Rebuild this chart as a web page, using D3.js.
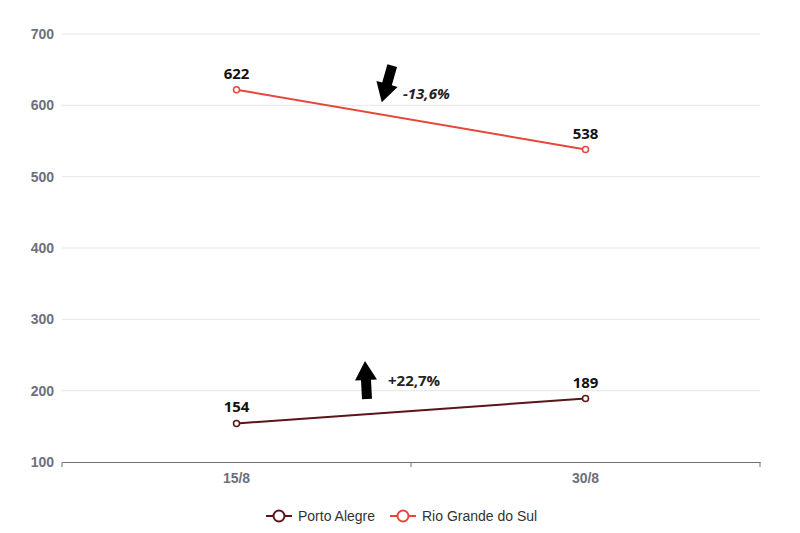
<!DOCTYPE html>
<html>
<head>
<meta charset="utf-8">
<script src="https://cdn.jsdelivr.net/npm/d3@7"></script>
<style>
  html, body { margin: 0; padding: 0; background: #fff; }
  svg { display: block; font-family: "Open Sans", "Noto Sans", sans-serif; }
</style>
</head>
<body>
<svg width="800" height="533"></svg>
<script>
// data
const categories = ['15/8', '30/8'];
const seriesNames = ['Porto Alegre', 'Rio Grande do Sul'];
const portoAlegre = [154, 189];
const rioGrande = [622, 538];
const yTicks = [100, 200, 300, 400, 500, 600, 700];
const changeLabels = ['+22,7%', '-13,6%'];

const colors = ['#5b1417', '#e5473a'];

// 0. setup
// ----------------------------------
const svg = d3.select('svg');
const margin = {left: 62, right: 40, top: 34, bottom: 71};
const width = 800 - margin.left - margin.right;
const height = 533 - margin.top - margin.bottom;

const plot = svg.append('g')
    .attr('transform', `translate(${margin.left},${margin.top})`);

const x = d3.scaleBand().domain(categories).range([0, width]);
const y = d3.scaleLinear().domain([100, 700]).range([height, 0]);
const cx = (d) => x(d) + x.bandwidth() / 2;

// 1. grid + axes
// ----------------------------------
plot.append('g')
    .selectAll('line')
    .data(yTicks.slice(1))
    .join('line')
    .attr('x1', 0)
    .attr('x2', width)
    .attr('y1', (d) => y(d))
    .attr('y2', (d) => y(d))
    .style('stroke', '#e6e6e6');

const yAxis = plot.append('g')
    .call(d3.axisLeft(y).tickValues(yTicks).tickSize(0).tickPadding(8));
yAxis.select('.domain').remove();
yAxis.selectAll('text')
    .style('font-size', '14px')
    .style('font-weight', 600)
    .style('fill', '#6e7079');

const xAxis = plot.append('g')
    .attr('transform', `translate(0,${height})`)
    .call(d3.axisBottom(x).tickSize(0).tickPadding(11));
xAxis.select('.domain').style('stroke', '#6e7079');
xAxis.selectAll('text')
    .style('font-size', '14px')
    .style('font-weight', 600)
    .style('fill', '#6e7079');

// ticks on the band boundaries
plot.append('g')
    .selectAll('line')
    .data([0, 1, 2])
    .join('line')
    .attr('x1', (i) => i * x.step())
    .attr('x2', (i) => i * x.step())
    .attr('y1', height)
    .attr('y2', height + 5)
    .style('stroke', '#6e7079');

// 2. lines
// ----------------------------------
const series = [portoAlegre, rioGrande];
const line = d3.line()
    .x((d, i) => cx(categories[i]))
    .y((d) => y(d));

series.forEach((vals, s) => {
  const g = plot.append('g');
  g.append('path')
      .datum(vals)
      .attr('d', line)
      .style('fill', 'none')
      .style('stroke', colors[s])
      .style('stroke-width', 2);
  g.selectAll('circle')
      .data(vals)
      .join('circle')
      .attr('cx', (d, i) => cx(categories[i]))
      .attr('cy', (d) => y(d))
      .attr('r', 3)
      .style('fill', '#fff')
      .style('stroke', colors[s])
      .style('stroke-width', 1.5);
  g.selectAll('text')
      .data(vals)
      .join('text')
      .attr('x', (d, i) => cx(categories[i]))
      .attr('y', (d) => y(d) - 11)
      .attr('text-anchor', 'middle')
      .style('font-size', '15px')
      .style('font-weight', 700)
      .style('fill', '#111')
      .text((d) => d);
});

// 3. change arrows
// ----------------------------------
const arrowPath = 'M-5,19 L-5,0 L-11,0 L0,-19 L11,0 L5,0 L5,19 Z';

const midX = x.step();
// porto alegre up arrow
plot.append('path')
    .attr('d', arrowPath)
    .attr('transform', `translate(${midX - 45},${y(215)}) rotate(-3)`)
    .style('fill', '#000');
plot.append('text')
    .attr('x', midX - 23)
    .attr('y', y(206.5))
    .style('font-size', '15px')
    .style('font-weight', 700)
    .style('fill', '#222')
    .text(changeLabels[0]);

// rio grande down arrow
plot.append('path')
    .attr('d', arrowPath)
    .attr('transform', `translate(${midX - 24},${y(630)}) rotate(196)`)
    .style('fill', '#000');
plot.append('text')
    .attr('x', midX - 8)
    .attr('y', y(609))
    .style('font-size', '15px')
    .style('font-weight', 700)
    .style('font-style', 'italic')
    .style('fill', '#222')
    .text(changeLabels[1]);

// 4. legend
// ----------------------------------
const legend = svg.append('g').attr('transform', 'translate(266,516)');
const legendX = [0, 124];
seriesNames.forEach((name, i) => {
  const item = legend.append('g').attr('transform', `translate(${legendX[i]},0)`);
  item.append('line')
      .attr('x1', 0).attr('x2', 26)
      .style('stroke', colors[i])
      .style('stroke-width', 2);
  item.append('circle')
      .attr('cx', 13)
      .attr('r', 5.5)
      .style('fill', '#fff')
      .style('stroke', colors[i])
      .style('stroke-width', 2);
  item.append('text')
      .attr('x', 32)
      .attr('dy', '0.35em')
      .style('font-family', '"Liberation Sans", Arial, sans-serif')
      .style('font-size', '14px')
      .style('fill', '#333')
      .text(name);
});
</script>
</body>
</html>
